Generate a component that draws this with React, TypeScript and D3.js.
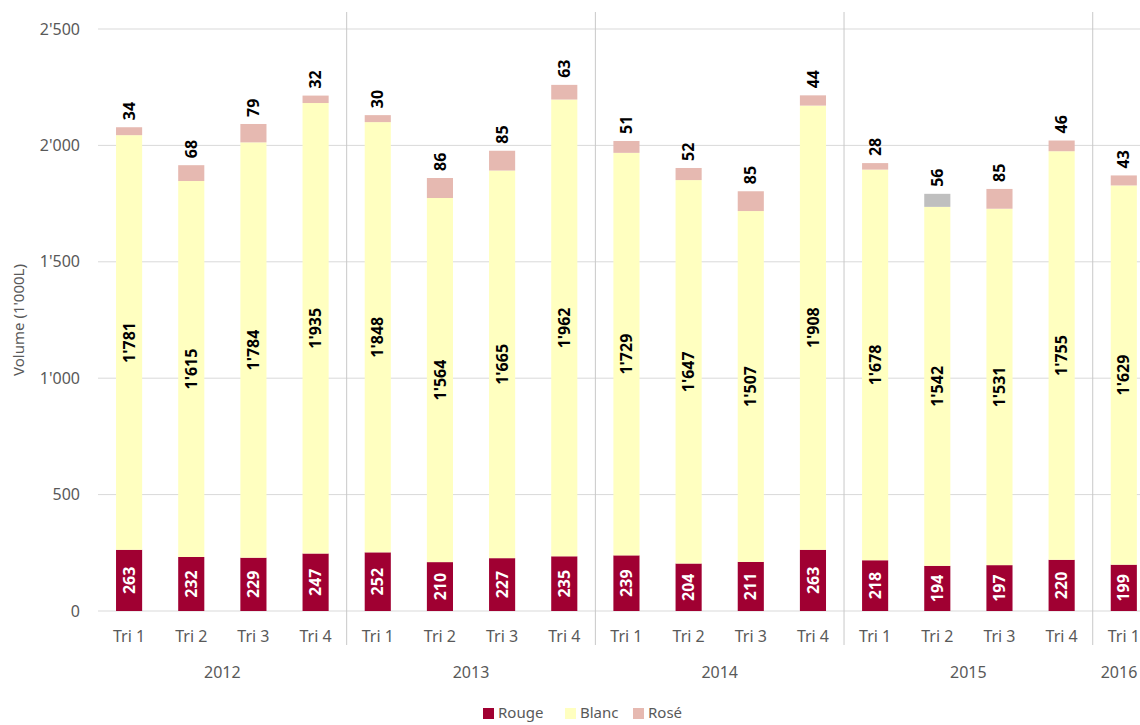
import React, { useEffect, useRef } from 'react';
import * as d3 from 'd3';

// Volumes in 1'000 L per quarter
const years = ['2012', '2013', '2014', '2015', '2016'];
const periods = [
  '2012|Tri 1', '2012|Tri 2', '2012|Tri 3', '2012|Tri 4',
  '2013|Tri 1', '2013|Tri 2', '2013|Tri 3', '2013|Tri 4',
  '2014|Tri 1', '2014|Tri 2', '2014|Tri 3', '2014|Tri 4',
  '2015|Tri 1', '2015|Tri 2', '2015|Tri 3', '2015|Tri 4',
  '2016|Tri 1',
];
const rouge = [263, 232, 229, 247, 252, 210, 227, 235, 239, 204, 211, 263, 218, 194, 197, 220, 199];
const blanc = [1781, 1615, 1784, 1935, 1848, 1564, 1665, 1962, 1729, 1647, 1507, 1908, 1678, 1542, 1531, 1755, 1629];
const rose = [34, 68, 79, 32, 30, 86, 85, 63, 51, 52, 85, 44, 28, 56, 85, 46, 43];
const yTicks = [0, 500, 1000, 1500, 2000, 2500];
const seriesNames = ['Rouge', 'Blanc', 'Rosé'];
const highlighted = '2015|Tri 2'; // grey rosé segment in the original

const colors = { Rouge: '#a00032', Blanc: '#ffffc0', 'Rosé': '#e6b9b1' };
const fmt = (v: number) => d3.format(',')(v).replace(/,/g, "'");

const App = () => {
  const svgRef = useRef<SVGSVGElement>(null);

  useEffect(() => {
    const width = 1140;
    const height = 725;
    const svg = d3.select(svgRef.current);
    svg.selectAll('*').remove();

    const margin = { top: 29, left: 98, bottom: 114 };
    const step = 62.17;
    const plotRight = margin.left + step * periods.length;
    const plotBottom = height - margin.bottom;

    const x = d3.scaleBand<string>()
      .domain(periods)
      .range([margin.left, plotRight])
      .paddingInner(0.58)
      .paddingOuter(0.29);

    const y = d3.scaleLinear().domain([0, 2500]).range([plotBottom, margin.top]);

    const rows = periods.map((p, i) => ({ p, Rouge: rouge[i], Blanc: blanc[i], 'Rosé': rose[i] }));
    const stacked = d3.stack<any>().keys(seriesNames)(rows);

    const font = '"Noto Sans", "Open Sans", sans-serif';
    const axisColor = '#595959';
    const axisSize = '16px';
    const catLeft = (p: string) => x(p)! - x.step() * 0.29;
    const catMid = (p: string) => x(p)! + x.bandwidth() / 2;

    // grid lines
    svg.append('g')
      .selectAll('line')
      .data(yTicks)
      .join('line')
      .attr('x1', margin.left)
      .attr('x2', plotRight)
      .attr('y1', d => y(d))
      .attr('y2', d => y(d))
      .attr('stroke', '#d9d9d9')
      .attr('stroke-width', 1);

    // year separators
    const yearBounds = years.map(yr => periods.filter(p => p.startsWith(yr)));
    svg.append('g')
      .selectAll('line')
      .data(yearBounds.slice(1))
      .join('line')
      .attr('x1', d => catLeft(d[0]))
      .attr('x2', d => catLeft(d[0]))
      .attr('y1', 12)
      .attr('y2', plotBottom + 34)
      .attr('stroke', '#c8c8c8')
      .attr('stroke-width', 1);

    // bars
    stacked.forEach(layer => {
      svg.append('g')
        .selectAll('rect')
        .data(layer)
        .join('rect')
        .attr('x', d => x(d.data.p)!)
        .attr('width', x.bandwidth())
        .attr('y', d => y(d[1]))
        .attr('height', d => y(d[0]) - y(d[1]))
        .attr('fill', d => (layer.key === 'Rosé' && d.data.p === highlighted) ? '#bfbfbf' : (colors as any)[layer.key]);
    });

    // value labels
    stacked.forEach(layer => {
      svg.append('g')
        .selectAll('text')
        .data(layer)
        .join('text')
        .attr('transform', d => {
          const cx = catMid(d.data.p);
          const cy = layer.key === 'Rosé' ? y(d[1]) - 7 : (y(d[0]) + y(d[1])) / 2;
          return `translate(${cx},${cy}) rotate(-90)`;
        })
        .attr('text-anchor', layer.key === 'Rosé' ? 'start' : 'middle')
        .attr('dy', '0.35em')
        .style('font-family', font)
        .style('font-size', '16px')
        .style('font-weight', 'bold')
        .style('fill', layer.key === 'Rouge' ? '#ffffff' : '#000000')
        .text(d => fmt(d.data[layer.key]));
    });

    // y axis labels
    svg.append('g')
      .selectAll('text')
      .data(yTicks)
      .join('text')
      .attr('x', 80)
      .attr('y', d => y(d))
      .attr('dy', '0.35em')
      .attr('text-anchor', 'end')
      .style('font-family', font)
      .style('font-size', axisSize)
      .style('fill', axisColor)
      .text(d => fmt(d));

    svg.append('text')
      .attr('transform', `translate(19,320) rotate(-90)`)
      .attr('text-anchor', 'middle')
      .attr('dy', '0.35em')
      .style('font-family', font)
      .style('font-size', '15px')
      .style('fill', axisColor)
      .text("Volume (1'000L)");

    // quarter labels
    svg.append('g')
      .selectAll('text')
      .data(periods)
      .join('text')
      .attr('x', d => catMid(d))
      .attr('y', plotBottom + 25)
      .attr('dy', '0.35em')
      .attr('text-anchor', 'middle')
      .style('font-family', font)
      .style('font-size', axisSize)
      .style('fill', axisColor)
      .text(d => d.split('|')[1]);

    // year labels, centred over the quarters each year has (kept inside the frame)
    svg.append('g')
      .selectAll('text')
      .data(yearBounds)
      .join('text')
      .attr('x', d => Math.min((catMid(d[0]) + catMid(d[d.length - 1])) / 2, width - 21))
      .attr('y', plotBottom + 61)
      .attr('dy', '0.35em')
      .attr('text-anchor', 'middle')
      .style('font-family', font)
      .style('font-size', axisSize)
      .style('fill', axisColor)
      .text((d, i) => years[i]);

    // legend
    const legendX = [483, 565, 633];
    const legend = svg.append('g');
    seriesNames.forEach((name, i) => {
      legend.append('rect')
        .attr('x', legendX[i])
        .attr('y', 708)
        .attr('width', 11)
        .attr('height', 11)
        .attr('fill', (colors as any)[name]);
      legend.append('text')
        .attr('x', legendX[i] + 15)
        .attr('y', 713)
        .attr('dy', '0.35em')
        .style('font-family', font)
        .style('font-size', '15px')
        .style('fill', axisColor)
        .text(name);
    });
  }, []);

  return (
    <div style={{ position: 'absolute', left: 0, top: 0, width: 1140, height: 725, overflow: 'hidden', background: '#fff' }}>
      <svg ref={svgRef} width={1140} height={725} style={{ display: 'block' }}></svg>
    </div>
  );
};

export default App;
